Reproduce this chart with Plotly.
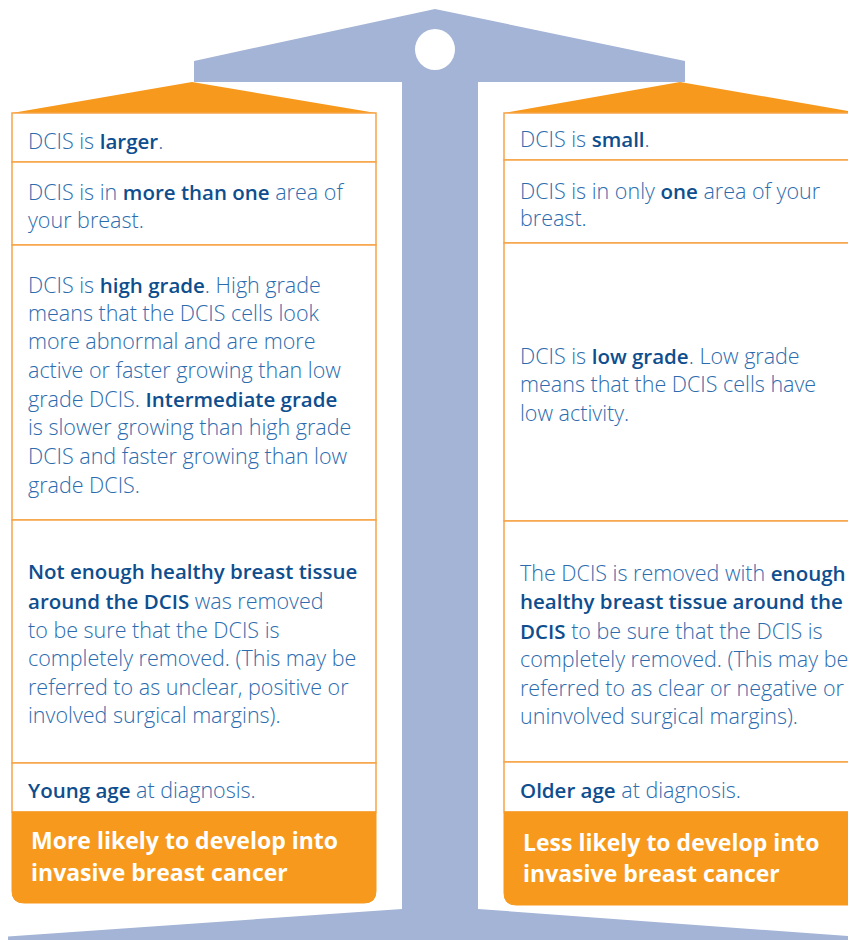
import plotly.graph_objects as go

W, H = 856, 940
OFF = 8  # page body margin offset
BLUE_BEAM = "#A4B4D6"
ORANGE = "#F7991C"
BORDER = "#F6A447"
TXT = "#2C6CAE"
BOLD = "#0E4E8E"
FONT = "Open Sans"

def b(s):
    return f'<span style="font-weight:600;font-size:20.5px;color:{BOLD}">{s}</span>'

# text lines (left panel) and their vertical centres
left_lines = [
    "DCIS is " + b("larger") + ".",
    "DCIS is in " + b("more than one") + " area of",
    "your breast.",
    "DCIS is " + b("high grade") + ". High grade",
    "means that the DCIS cells look",
    "more abnormal and are more",
    "active or faster growing than low",
    "grade DCIS. " + b("Intermediate grade"),
    "is slower growing than high grade",
    "DCIS and faster growing than low",
    "grade DCIS.",
    b("Not enough healthy breast tissue"),
    b("around the DCIS") + " was removed",
    "to be sure that the DCIS is",
    "completely removed. (This may be",
    "referred to as unclear, positive or",
    "involved surgical margins).",
    b("Young age") + " at diagnosis.",
]
left_y = [140, 191, 219, 284, 312, 340, 369, 398, 426, 455, 484,
          571, 600, 629, 657, 686, 714, 789]

right_lines = [
    "DCIS is " + b("small") + ".",
    "DCIS is in only " + b("one") + " area of your",
    "breast.",
    "DCIS is " + b("low grade") + ". Low grade",
    "means that the DCIS cells have",
    "low activity.",
    "The DCIS is removed with " + b("enough"),
    b("healthy breast tissue around the"),
    b("DCIS") + " to be sure that the DCIS is",
    "completely removed. (This may be",
    "referred to as clear or negative or",
    "uninvolved surgical margins).",
    b("Older age") + " at diagnosis.",
]
right_y = [138, 190, 217, 355, 383, 412, 572, 601, 630, 658, 687, 715, 789]

left_footer = ["More likely to develop into", "invasive breast cancer"]
left_footer_y = [840, 872]
right_footer = ["Less likely to develop into", "invasive breast cancer"]
right_footer_y = [842, 873]

left_rows = [113, 162, 245, 520, 763, 812]
right_rows = [113, 160, 243, 521, 762, 812]

LX0, LX1 = 12, 376
RX0, RX1 = 504, 872

shapes = []
# beam + stem + base
shapes.append(dict(type="path", layer="below",
                   path="M194,82 L194,61 L435,9 L685,61 L685,82 Z",
                   fillcolor=BLUE_BEAM, line=dict(width=0)))
shapes.append(dict(type="path", layer="below",
                   path="M402,80 L478,80 L478,909 L860,937 L860,945 L0,945 L0,937 L402,909 Z",
                   fillcolor=BLUE_BEAM, line=dict(width=0)))
shapes.append(dict(type="circle", x0=415, x1=455, y0=29, y1=70,
                   fillcolor="white", line=dict(width=0)))
# tray triangles
shapes.append(dict(type="path", path=f"M{LX0},113 L192,82 L{LX1},113 Z",
                   fillcolor=ORANGE, line=dict(width=0)))
shapes.append(dict(type="path", path=f"M{RX0},113 L680,82 L860,113 Z",
                   fillcolor=ORANGE, line=dict(width=0)))

def panel(x0, x1, rows, bottom):
    for a, c in zip(rows[:-1], rows[1:]):
        shapes.append(dict(type="rect", x0=x0, x1=x1, y0=a, y1=c,
                           fillcolor="white", line=dict(color=BORDER, width=1.5)))
    r = 12
    top = rows[-1]
    shapes.append(dict(type="path",
                       path=(f"M{x0},{top} L{x1},{top} L{x1},{bottom - r} "
                             f"Q{x1},{bottom} {x1 - r},{bottom} L{x0 + r},{bottom} "
                             f"Q{x0},{bottom} {x0},{bottom - r} Z"),
                       fillcolor=ORANGE, line=dict(color=ORANGE, width=1)))

panel(LX0, LX1, left_rows, 903)
panel(RX0, RX1, right_rows, 905)

body_font = dict(family=FONT, size=21.5, color=TXT, weight=300)
foot_font = dict(family=FONT, size=23, color="white", weight=700)

annotations = []
for t, y in zip(left_lines, left_y):
    annotations.append(dict(x=26, y=y, text=t, xanchor="left", yanchor="middle",
                            showarrow=False, font=body_font))
for t, y in zip(right_lines, right_y):
    annotations.append(dict(x=518, y=y, text=t, xanchor="left", yanchor="middle",
                            showarrow=False, font=body_font))
for t, y in zip(left_footer, left_footer_y):
    annotations.append(dict(x=29, y=y, text=t, xanchor="left", yanchor="middle",
                            showarrow=False, font=foot_font))
for t, y in zip(right_footer, right_footer_y):
    annotations.append(dict(x=521, y=y, text=t, xanchor="left", yanchor="middle",
                            showarrow=False, font=foot_font))

fig = go.Figure()
fig.update_layout(
    width=W - OFF, height=H - OFF, margin=dict(l=0, r=0, t=0, b=0),
    paper_bgcolor="white", plot_bgcolor="white",
    xaxis=dict(range=[OFF, W], visible=False, fixedrange=True),
    yaxis=dict(range=[H, OFF], visible=False, fixedrange=True),
    shapes=shapes, annotations=annotations, showlegend=False,
)
fig.write_html("out.html", config={"displayModeBar": False})
